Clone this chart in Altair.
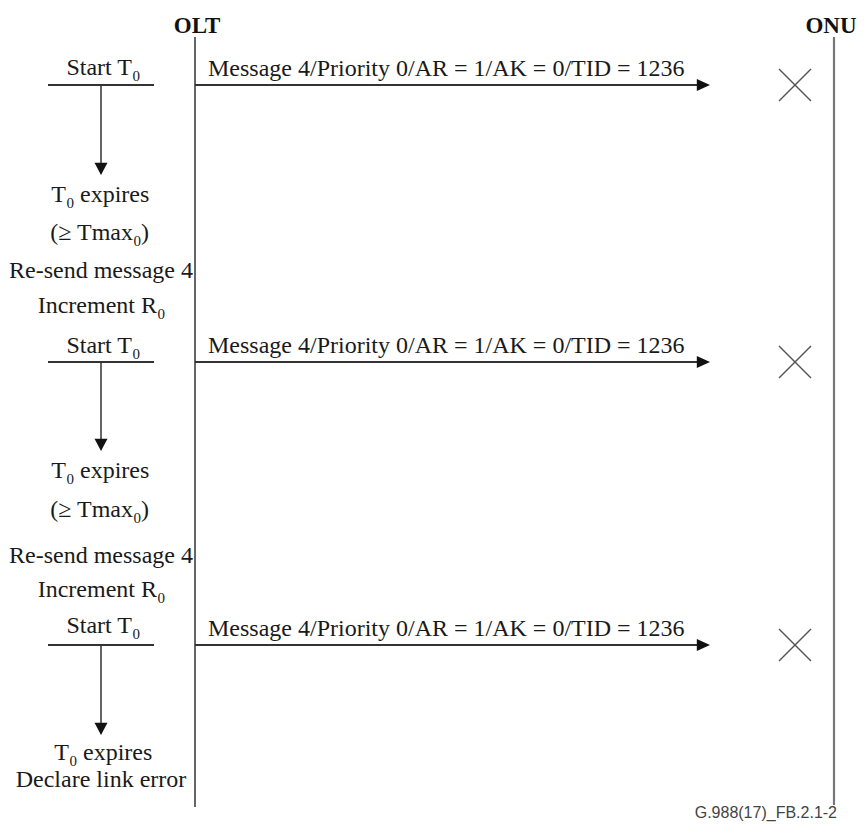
import altair as alt
import pandas as pd

# ---------------- content ----------------
participants = ["OLT", "ONU"]
message_text = "Message 4/Priority 0/AR = 1/AK = 0/TID = 1236"
footer_text = "G.988(17)_FB.2.1-2"

# timer notes on the left: (baseline row, subscript anchor col, main, subscript, tail)
notes = [
    (75, 132, "Start T", "0", ""),
    (202, 66, "T", "0", " expires"),
    (240, 133, "(≥ Tmax", "0", ")"),
    (278, None, "Re-send message 4", "", ""),
    (313, 157, "Increment R", "0", ""),
    (353, 132, "Start T", "0", ""),
    (478, 66, "T", "0", " expires"),
    (517, 133, "(≥ Tmax", "0", ")"),
    (563, None, "Re-send message 4", "", ""),
    (597, 157, "Increment R", "0", ""),
    (633, 132, "Start T", "0", ""),
    (760, 69, "T", "0", " expires"),
    (787, None, "Declare link error", "", ""),
]

# ---------------- layout (diagram rows / columns) ----------------
W, H = 849, 814
lifeline_x = [195, 834]
lifeline_top = 37
lifeline_bottom = [807, 805]
lifeline_color = ["#333333", "#777777"]
lifeline_width = [1.5, 2.2]
label_x = [197, 831]
label_y = 33

send_y = [85, 362, 645]        # rows where each attempt is sent
timer_tip_y = [175, 451, 735]  # rows where the timer arrow ends
timer_x = 101
timer_bar = (48, 154)
msg_tip_x = 710
cross_x = 795
cross_half = 16
note_center_x = 101
sub_w = 8
space_w = 6

xs = alt.Scale(domain=[8, 8 + W], nice=False, zero=False)
ys = alt.Scale(domain=[8, 8 + H], nice=False, zero=False, reverse=True)


def enc(**extra):
    e = dict(x=alt.X("x:Q", scale=xs, axis=None), y=alt.Y("y:Q", scale=ys, axis=None))
    e.update(extra)
    return e


# ---------------- line segments ----------------
segs = []
for i, p in enumerate(participants):
    segs.append(dict(x=lifeline_x[i], x2=lifeline_x[i], y=lifeline_top, y2=lifeline_bottom[i],
                     c=lifeline_color[i], w=lifeline_width[i]))
for k, sy in enumerate(send_y):
    segs.append(dict(x=timer_bar[0], x2=timer_bar[1], y=sy, y2=sy, c="#333333", w=1.8))
    segs.append(dict(x=timer_x, x2=timer_x, y=sy, y2=timer_tip_y[k] - 8, c="#333333", w=1.5))
    segs.append(dict(x=lifeline_x[0], x2=msg_tip_x - 8, y=sy, y2=sy, c="#333333", w=1.8))
    segs.append(dict(x=cross_x - cross_half, x2=cross_x + cross_half, y=sy - cross_half,
                     y2=sy + cross_half, c="#555555", w=1.4))
    segs.append(dict(x=cross_x - cross_half, x2=cross_x + cross_half, y=sy + cross_half,
                     y2=sy - cross_half, c="#555555", w=1.4))
seg_df = pd.DataFrame(segs)

rules = alt.Chart(seg_df).mark_rule().encode(
    **enc(x2="x2:Q", y2="y2:Q",
          color=alt.Color("c:N", scale=None),
          strokeWidth=alt.StrokeWidth("w:Q", scale=None))
)

down_df = pd.DataFrame({"x": [timer_x] * len(timer_tip_y), "y": timer_tip_y})
right_df = pd.DataFrame({"x": [msg_tip_x] * len(send_y), "y": send_y})

down_heads = alt.Chart(down_df).mark_point(
    shape="M0,0 L-1,-1.9 L1,-1.9 Z", size=169, filled=True, color="#111111", opacity=1, strokeWidth=0
).encode(**enc())
right_heads = alt.Chart(right_df).mark_point(
    shape="M0,0 L-2.2,-1 L-2.2,1 Z", size=144, filled=True, color="#111111", opacity=1, strokeWidth=0
).encode(**enc())

# ---------------- texts ----------------
serif = "Liberation Serif"
ink = "#1a1a1a"

lab_df = pd.DataFrame({"x": label_x, "y": [label_y] * 2, "t": participants})
labels = alt.Chart(lab_df).mark_text(
    font=serif, fontWeight="bold", fontSize=23, align="center", baseline="alphabetic", color="#111111"
).encode(**enc(text="t:N"))

msg_df = pd.DataFrame({"x": [208] * len(send_y), "y": [s - 9 for s in send_y],
                       "t": [message_text] * len(send_y)})
msgs = alt.Chart(msg_df).mark_text(
    font=serif, fontSize=24, align="left", baseline="alphabetic", color=ink
).encode(**enc(text="t:N"))

main_r, subs, tails, centered = [], [], [], []
for (by, ax, main, sub, tail) in notes:
    if ax is None:
        centered.append(dict(x=note_center_x, y=by, t=main))
        continue
    main_r.append(dict(x=ax, y=by, t=main))
    if sub:
        subs.append(dict(x=ax + 0.5, y=by + 6, t=sub))
    if tail:
        off = sub_w + (space_w if tail.startswith(" ") else 0)
        tails.append(dict(x=ax + off, y=by, t=tail.strip()))

t_main = alt.Chart(pd.DataFrame(main_r)).mark_text(
    font=serif, fontSize=24, align="right", baseline="alphabetic", color=ink
).encode(**enc(text="t:N"))
t_sub = alt.Chart(pd.DataFrame(subs)).mark_text(
    font=serif, fontSize=15, align="left", baseline="alphabetic", color=ink
).encode(**enc(text="t:N"))
t_tail = alt.Chart(pd.DataFrame(tails)).mark_text(
    font=serif, fontSize=24, align="left", baseline="alphabetic", color=ink
).encode(**enc(text="t:N"))
t_center = alt.Chart(pd.DataFrame(centered)).mark_text(
    font=serif, fontSize=24, align="center", baseline="alphabetic", color=ink
).encode(**enc(text="t:N"))

foot_df = pd.DataFrame({"x": [837], "y": [818], "t": [footer_text]})
footer = alt.Chart(foot_df).mark_text(
    font="Liberation Sans", fontSize=16, align="right", baseline="alphabetic", color="#444444"
).encode(**enc(text="t:N"))

chart = alt.layer(
    rules, down_heads, right_heads, labels, msgs, t_main, t_sub, t_tail, t_center, footer
).properties(
    width=W, height=H, padding=0, autosize="none", background="white"
).configure_view(stroke=None)

chart.save("out.html", embed_options={"renderer": "svg", "actions": False})
